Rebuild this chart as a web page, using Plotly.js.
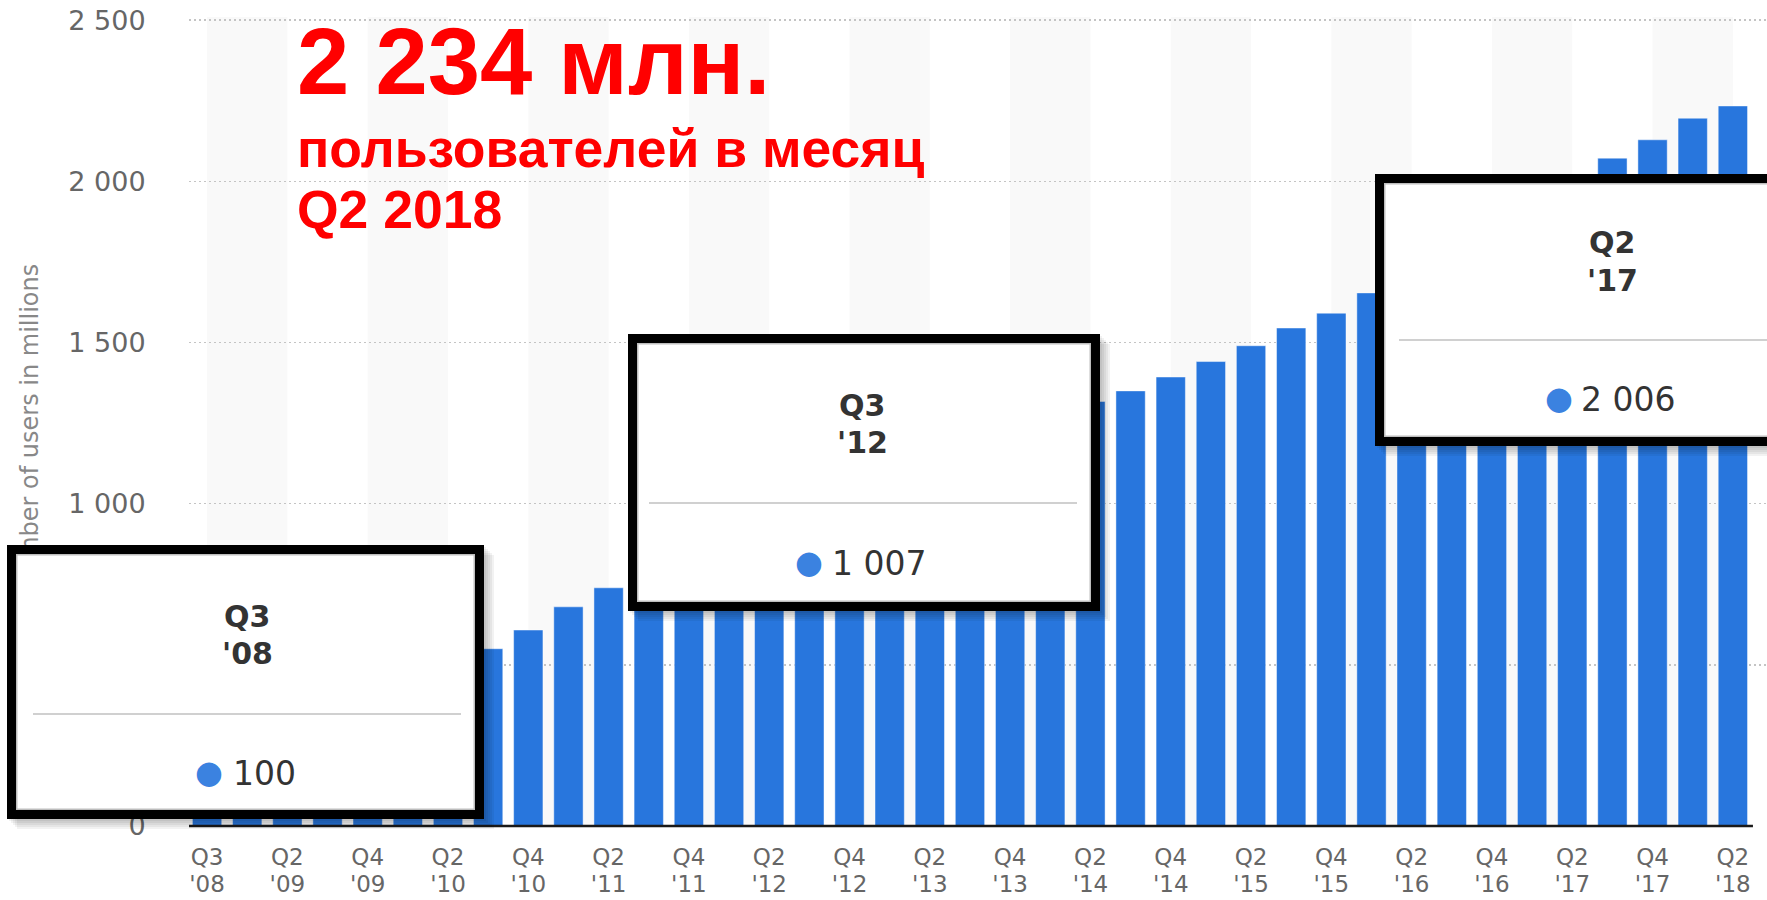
<!DOCTYPE html>
<html>
<head>
<meta charset="utf-8">
<script src="https://cdn.plot.ly/plotly-3.0.1.min.js"></script>
<style>
  html, body { margin: 0; padding: 0; background: #ffffff; }
  #chart { width: 1767px; height: 900px; }
</style>
</head>
<body>
<div id="chart"></div>
<script>
// ---------------- DATA ----------------
const quarters = [
  'Q3',
  'Q1', 'Q2', 'Q3', 'Q4',
  'Q1', 'Q2', 'Q3', 'Q4',
  'Q1', 'Q2', 'Q3', 'Q4',
  'Q1', 'Q2', 'Q3', 'Q4',
  'Q1', 'Q2', 'Q3', 'Q4',
  'Q1', 'Q2', 'Q3', 'Q4',
  'Q1', 'Q2', 'Q3', 'Q4',
  'Q1', 'Q2', 'Q3', 'Q4',
  'Q1', 'Q2', 'Q3', 'Q4',
  'Q1', 'Q2'
];
const years = [
  "'08",
  "'09", "'09", "'09", "'09",
  "'10", "'10", "'10", "'10",
  "'11", "'11", "'11", "'11",
  "'12", "'12", "'12", "'12",
  "'13", "'13", "'13", "'13",
  "'14", "'14", "'14", "'14",
  "'15", "'15", "'15", "'15",
  "'16", "'16", "'16", "'16",
  "'17", "'17", "'17", "'17",
  "'18", "'18"
];
// Monthly active users, millions
const users = [
  100,
  197, 242, 305, 360,
  431, 482, 550, 608,
  680, 739, 800, 845,
  901, 955, 1007, 1056,
  1110, 1155, 1189, 1228,
  1276, 1317, 1350, 1393,
  1441, 1490, 1545, 1591,
  1654, 1712, 1788, 1860,
  1936, 2006, 2072, 2129,
  2196, 2234
];
const yTicks = [0, 500, 1000, 1500, 2000, 2500];
const yTitle = 'Number of users in millions';
const headline = ['2 234 млн.', 'пользователей в месяц', 'Q2 2018'];
const calloutIndex = [0, 15, 34];   // Q3 '08, Q3 '12, Q2 '17

const categories = quarters.map((q, i) => q + ' ' + years[i]);
const positions = categories.map((c, i) => i);
const tickStep = 2;
const tickIdx = positions.filter(i => i % tickStep === 0);

// ---------------- LAYOUT GEOMETRY ----------------
const W = 1767, H = 900;
const M = { l: 189, r: 0, t: 17, b: 74 };
const PW = W - M.l - M.r, PH = H - M.t - M.b;
const px = x => (x - M.l) / PW;           // pixel -> paper x
const py = y => (H - M.b - y) / PH;       // pixel -> paper y
const xRange = [-0.45, 38.85];

const fmt = v => String(v).replace(/\B(?=(\d{3})+(?!\d))/g, ' ');

const axisFont = { family: 'DejaVu Sans', size: 23, color: '#666666' };

// ---------------- SHAPES ----------------
const shapes = [];
// alternate background bands between ticks
for (let k = 0; k < categories.length; k += 2 * tickStep) {
  shapes.push({
    type: 'rect', xref: 'x', yref: 'paper', x0: k, x1: k + tickStep, y0: 0, y1: 1,
    fillcolor: '#f9f9f9', line: { width: 0 }, layer: 'below'
  });
}
// x-axis base line
shapes.push({
  type: 'line', xref: 'x', yref: 'paper', x0: xRange[0], x1: categories.length - 0.5,
  y0: 0, y1: 0, line: { color: '#1a1a1a', width: 2.5 }, layer: 'above'
});

// ---------------- ANNOTATIONS ----------------
const annotations = [];

// y-axis title (rotated) - drawn first so the callout boxes cover its end
annotations.push({ xref: 'paper', yref: 'paper', x: px(30), y: py(429), xanchor: 'center', yanchor: 'middle',
  showarrow: false, textangle: -90, text: yTitle, font: { family: 'DejaVu Sans', size: 24, color: '#888888' } });

// headline (red)
const redFont = s => ({ family: 'Liberation Sans, Arial, sans-serif', size: s, color: '#ff0000', weight: 'bold' });
annotations.push({ xref: 'paper', yref: 'paper', x: px(295), y: py(7), xanchor: 'left', yanchor: 'top',
  showarrow: false, text: '<b>' + headline[0] + '</b>', font: redFont(94) });
annotations.push({ xref: 'paper', yref: 'paper', x: px(295), y: py(117), xanchor: 'left', yanchor: 'top',
  showarrow: false, text: '<b>' + headline[1] + '</b>', font: redFont(53.5) });
annotations.push({ xref: 'paper', yref: 'paper', x: px(295), y: py(178), xanchor: 'left', yanchor: 'top',
  showarrow: false, text: '<b>' + headline[2] + '</b>', font: redFont(53.5) });

// callout (tooltip) boxes, pixel layout
const boxes = [
  { box: [7, 545, 484, 819],     title: [247, 616, 653],  sep: [33, 461, 714],    dot: [209, 772],  val: [231, 773] },
  { box: [628, 334, 1100, 611],  title: [862, 405, 442],  sep: [649, 1077, 503],  dot: [809, 562],  val: [830, 563] },
  { box: [1375, 174, 1830, 446], title: [1612, 243, 280], sep: [1399, 1830, 340], dot: [1559, 398], val: [1579, 399] }
];

// plain rectangle drawn as an annotation (so it stacks above earlier text)
const rectAnn = (x, y, w, h, opts) => Object.assign({
  xref: 'paper', yref: 'paper', x: px(x), y: py(y), xanchor: 'left', yanchor: 'top',
  showarrow: false, text: ' ', width: w, height: h, borderpad: 0, borderwidth: 0,
  font: { size: 1 }
}, opts);

boxes.forEach((b, n) => {
  const i = calloutIndex[n];
  const [x0, y0, x1, y1] = b.box;
  const bw = 9;
  // soft shadow
  [10, 8, 6, 4, 2].forEach(o => {
    annotations.push(rectAnn(x0 + o, y0 + o, x1 - x0, y1 - y0, { bgcolor: 'rgba(0,0,0,0.05)' }));
  });
  // black frame with white fill
  annotations.push(rectAnn(x0, y0, x1 - x0 - 2 * bw, y1 - y0 - 2 * bw,
    { bgcolor: '#ffffff', bordercolor: '#000000', borderwidth: bw }));
  // thin inner tooltip border
  annotations.push(rectAnn(x0 + bw, y0 + bw, x1 - x0 - 2 * bw - 3, y1 - y0 - 2 * bw - 3,
    { bgcolor: 'rgba(0,0,0,0)', bordercolor: '#bdbdbd', borderwidth: 1.5 }));
  // separator
  annotations.push(rectAnn(b.sep[0], b.sep[2] - 1, b.sep[1] - b.sep[0], 2, { bgcolor: '#d0d0d0' }));
  // point marker
  annotations.push({
    xref: 'paper', yref: 'paper', x: px(b.dot[0]), y: py(b.dot[1]),
    xanchor: 'center', yanchor: 'middle', showarrow: false, text: '●',
    font: { family: 'DejaVu Sans', size: 32, color: '#3b82e0' }
  });
  const tFont = { family: 'DejaVu Sans', size: 30, color: '#333333', weight: 'bold' };
  annotations.push({
    xref: 'paper', yref: 'paper', x: px(b.title[0]), y: py(b.title[1]),
    xanchor: 'center', yanchor: 'middle', showarrow: false, text: quarters[i], font: tFont
  });
  annotations.push({
    xref: 'paper', yref: 'paper', x: px(b.title[0]), y: py(b.title[2]),
    xanchor: 'center', yanchor: 'middle', showarrow: false, text: years[i], font: tFont
  });
  annotations.push({
    xref: 'paper', yref: 'paper', x: px(b.val[0]), y: py(b.val[1]),
    xanchor: 'left', yanchor: 'middle', showarrow: false, text: fmt(users[i]),
    font: { family: 'DejaVu Sans', size: 33, color: '#333333' }
  });
});

// ---------------- TRACES ----------------
const bars = {
  type: 'bar',
  x: categories,
  y: users,
  marker: { color: '#2876dd', line: { color: 'rgba(255,255,255,0.45)', width: 1 } },
  hoverinfo: 'skip'
};
// carrier for the second (year) label row, draws nothing
const yearRow = {
  type: 'scatter', mode: 'none',
  x: positions, y: users,
  xaxis: 'x2', yaxis: 'y',
  hoverinfo: 'skip', showlegend: false
};

const layout = {
  width: W, height: H,
  margin: M,
  paper_bgcolor: '#ffffff',
  plot_bgcolor: 'rgba(0,0,0,0)',
  separators: '. ',
  showlegend: false,
  bargap: 0.27,
  xaxis: {
    type: 'category', range: xRange, autorange: false,
    tickmode: 'array',
    tickvals: tickIdx.map(i => categories[i]),
    ticktext: tickIdx.map(i => quarters[i]),
    tickfont: axisFont,
    ticks: 'outside', ticklen: 10, tickcolor: 'rgba(0,0,0,0)',
    showgrid: false, zeroline: false, showline: false, fixedrange: true
  },
  xaxis2: {
    type: 'linear', overlaying: 'x', anchor: 'y', side: 'bottom',
    range: xRange, autorange: false,
    tickmode: 'array',
    tickvals: tickIdx,
    ticktext: tickIdx.map(i => years[i]),
    tickfont: axisFont,
    ticks: 'outside', ticklen: 37, tickcolor: 'rgba(0,0,0,0)',
    showgrid: false, zeroline: false, showline: false, fixedrange: true
  },
  yaxis: {
    range: [0, 2510], autorange: false,
    tickmode: 'array', tickvals: yTicks,
    tickformat: ',d',
    tickfont: { family: 'DejaVu Sans', size: 27, color: '#666666' },
    ticks: 'outside', ticklen: 37, tickcolor: 'rgba(0,0,0,0)',
    showgrid: true, gridcolor: '#c4c4c4', gridwidth: 1.5, griddash: '2px,3px',
    zeroline: false, showline: false, fixedrange: true
  },
  shapes: shapes,
  annotations: annotations
};

Plotly.newPlot('chart', [bars, yearRow], layout, { displayModeBar: false, staticPlot: true });
</script>
</body>
</html>
